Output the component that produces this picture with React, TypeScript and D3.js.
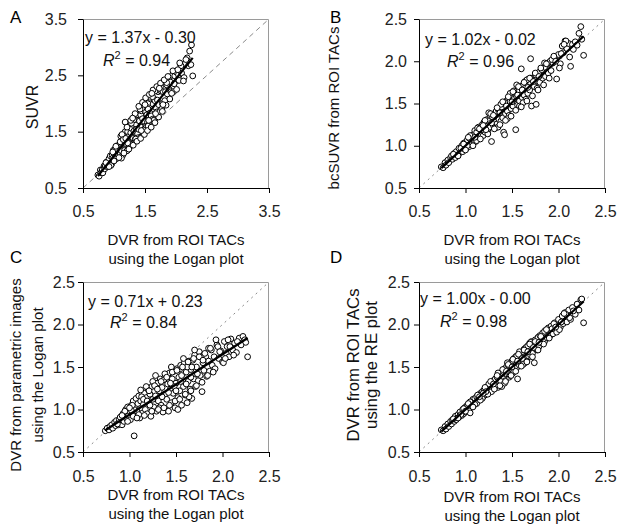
import React, { useRef, useEffect } from "react";
import * as d3 from "d3";

// DVR from ROI TACs (Logan plot) - shared x values for all four panels
const dvrLogan = [
  0.74, 0.76, 0.78, 0.79, 0.81, 0.82, 0.84, 0.85, 0.86, 0.88,
  0.89, 0.90, 0.92, 0.93, 0.94, 0.96, 0.97, 0.98, 0.99, 1.00,
  1.01, 1.02, 1.03, 1.04, 1.04, 1.05, 1.06, 1.07, 1.08, 1.09,
  1.10, 1.11, 1.12, 1.13, 1.14, 1.15, 1.16, 1.17, 1.18, 1.19,
  1.20, 1.21, 1.22, 1.23, 1.24, 1.25, 1.26, 1.27, 1.28, 1.29,
  1.30, 1.31, 1.32, 1.33, 1.34, 1.35, 1.36, 1.37, 1.38, 1.39,
  1.40, 1.41, 1.42, 1.43, 1.44, 1.45, 1.46, 1.47, 1.48, 1.49,
  1.50, 1.51, 1.52, 1.53, 1.54, 1.55, 1.56, 1.57, 1.58, 1.59,
  1.60, 1.61, 1.62, 1.63, 1.64, 1.65, 1.66, 1.67, 1.68, 1.69,
  1.70, 1.71, 1.72, 1.74, 1.75, 1.76, 1.78, 1.79, 1.80, 1.82,
  1.83, 1.85, 1.86, 1.88, 1.89, 1.91, 1.92, 1.94, 1.96, 1.98,
  2.00, 2.02, 2.04, 2.05, 2.07, 2.09, 2.11, 2.13, 2.15, 2.18,
  2.20, 2.22, 2.24, 2.25, 2.27,
  1.05, 1.12, 1.18, 1.25, 1.32, 1.38, 1.45, 1.52, 1.58, 1.64,
  1.70, 1.77, 1.85, 0.95, 1.28, 1.42, 1.55, 1.62, 1.10, 1.35,
  1.48, 1.66, 1.93, 2.08, 1.02,
  1.03, 1.08, 1.13, 1.16, 1.21, 1.24, 1.27, 1.31, 1.34, 1.37,
  1.40, 1.43, 1.46, 1.49, 1.51, 1.54, 1.57, 1.60, 1.63, 1.66,
  1.69, 1.72, 1.75, 1.78, 1.81, 1.84, 1.87, 1.90, 1.95, 2.01,
  2.06, 2.12, 0.87, 0.92, 0.98, 1.00, 1.15, 1.22, 1.30, 1.44,
  1.50, 1.56, 1.61, 1.67, 1.73, 1.79, 1.97, 2.03, 2.16, 1.19,
];

// A: SUVR
const suvr = [
  0.73, 0.71, 0.82, 0.77, 0.82, 0.77, 0.89, 0.84, 0.89, 0.96,
  0.88, 0.93, 1.02, 0.93, 1.07, 0.92, 1.08, 1.03, 1.17, 1.00,
  1.10, 1.05, 1.21, 1.02, 1.17, 1.21, 1.13, 1.09, 1.24, 1.20,
  1.10, 1.42, 1.16, 1.34, 1.08, 1.43, 1.29, 1.17, 1.50, 1.29,
  1.41, 1.16, 1.50, 1.41, 1.31, 1.61, 1.28, 1.48, 1.56, 1.40,
  1.63, 1.38, 1.51, 1.70, 1.36, 1.64, 1.54, 1.71, 1.46, 1.80,
  1.54, 1.69, 1.40, 1.80, 1.87, 1.58, 1.73, 1.51, 1.95, 1.68,
  1.87, 1.60, 2.03, 1.80, 1.67, 1.90, 1.62, 2.02, 1.83, 2.08,
  1.78, 2.13, 1.72, 1.99, 2.09, 1.71, 2.05, 1.93, 2.25, 1.85,
  2.06, 2.21, 1.98, 1.86, 2.30, 2.22, 2.00, 2.21, 2.39, 2.05,
  2.21, 2.33, 2.17, 2.46, 2.25, 2.38, 2.21, 2.50, 2.21, 2.49,
  2.56, 2.41, 2.51, 2.41, 2.70, 2.54, 2.69, 2.46, 2.71, 2.81,
  2.67, 2.93, 2.69, 3.04, 2.49,
  1.25, 1.03, 1.67, 1.23, 1.71, 1.39, 1.91, 1.58, 2.11, 1.70,
  2.25, 1.90, 2.37, 0.90, 1.65, 1.90, 1.60, 2.12, 1.32, 1.37,
  1.53, 2.22, 2.18, 2.67, 1.20,
  1.24, 1.04, 1.45, 1.12, 1.58, 1.19, 1.70, 1.26, 1.82, 1.33,
  1.95, 1.38, 2.02, 1.45, 2.10, 1.52, 2.16, 1.58, 2.24, 1.66,
  2.30, 1.76, 2.36, 1.86, 2.42, 1.97, 2.48, 2.08, 2.58, 2.25,
  2.72, 2.40, 0.95, 0.88, 1.14, 0.98, 1.36, 1.30, 1.74, 1.52,
  1.98, 1.70, 2.18, 1.82, 2.27, 1.98, 2.35, 2.60, 2.78, 1.38,
];

// B: bcSUVR from ROI TACs
const bcSuvr = [
  0.75, 0.74, 0.80, 0.77, 0.83, 0.80, 0.86, 0.88, 0.84, 0.91,
  0.86, 0.93, 0.89, 0.97, 0.92, 1.00, 0.93, 1.03, 0.96, 1.04,
  0.97, 1.07, 1.00, 1.09, 0.99, 1.02, 1.11, 1.03, 1.13, 1.06,
  1.18, 1.05, 1.16, 1.09, 1.22, 1.10, 1.20, 1.13, 1.25, 1.12,
  1.28, 1.16, 1.23, 1.31, 1.17, 1.30, 1.22, 1.35, 1.05, 1.34,
  1.24, 1.38, 1.28, 1.41, 1.26, 1.43, 1.31, 1.39, 1.29, 1.46,
  1.33, 1.16, 1.50, 1.38, 1.53, 1.41, 1.56, 1.36, 1.52, 1.44,
  1.60, 1.47, 1.55, 1.62, 1.19, 1.58, 1.48, 1.66, 1.53, 1.70,
  1.91, 1.57, 1.72, 1.60, 1.76, 1.55, 1.70, 1.62, 1.79, 1.66,
  2.03, 1.47, 1.78, 1.70, 1.84, 1.49, 1.76, 1.87, 1.75, 1.90,
  1.80, 1.93, 1.82, 1.97, 1.86, 2.00, 1.89, 1.98, 2.04, 1.79,
  2.08, 1.97, 2.18, 2.10, 2.24, 2.15, 2.21, 1.94, 2.20, 2.23,
  2.19, 2.33, 2.41, 2.26, 2.07,
  1.12, 1.06, 1.19, 1.39, 1.21, 1.49, 1.32, 1.65, 1.47, 1.68,
  1.80, 1.68, 1.98, 0.97, 1.27, 1.13, 1.72, 1.51, 1.10, 1.22,
  1.62, 1.78, 2.02, 2.24, 1.00,
  1.10, 1.00, 1.21, 1.08, 1.30, 1.14, 1.38, 1.20, 1.45, 1.25,
  1.52, 1.30, 1.58, 1.35, 1.64, 1.42, 1.70, 1.46, 1.75, 1.53,
  1.80, 1.59, 1.86, 1.66, 1.92, 1.72, 1.97, 1.80, 2.06, 1.92,
  2.20, 2.05, 0.90, 0.88, 1.02, 0.95, 1.20, 1.19, 1.36, 1.47,
  1.52, 1.60, 1.66, 1.69, 1.76, 1.82, 2.00, 2.09, 2.14, 1.24,
];

// C: DVR from parametric images using the Logan plot
const dvrParametric = [
  0.75, 0.78, 0.76, 0.80, 0.82, 0.78, 0.85, 0.81, 0.87, 0.82,
  0.88, 0.91, 0.82, 0.95, 0.86, 1.00, 0.89, 1.03, 0.93, 0.98,
  0.88, 1.05, 0.95, 1.10, 0.92, 0.69, 1.03, 1.13, 0.98, 1.07,
  1.16, 0.90, 1.10, 1.20, 0.96, 1.06, 1.19, 1.00, 1.14, 0.95,
  1.24, 1.07, 1.18, 0.92, 1.27, 1.12, 1.03, 1.29, 1.16, 0.98,
  1.31, 1.10, 1.22, 1.36, 1.05, 1.26, 0.97, 1.35, 1.18, 1.40,
  1.12, 1.30, 0.98, 1.43, 1.24, 1.08, 1.36, 1.19, 1.45, 1.02,
  1.31, 1.48, 1.14, 1.38, 1.22, 1.52, 1.05, 1.42, 1.27, 1.55,
  1.17, 1.44, 1.08, 1.33, 1.57, 1.24, 1.47, 1.13, 1.58, 1.36,
  1.64, 1.27, 1.50, 1.34, 1.68, 1.40, 1.21, 1.55, 1.46, 1.62,
  1.39, 1.57, 1.45, 1.70, 1.52, 1.62, 1.48, 1.76, 1.60, 1.69,
  1.56, 1.80, 1.66, 1.74, 1.62, 1.83, 1.70, 1.78, 1.67, 1.84,
  1.76, 1.86, 1.82, 1.79, 1.62,
  1.00, 1.23, 1.27, 1.33, 1.02, 1.42, 1.50, 1.00, 1.60, 1.15,
  1.70, 1.62, 1.72, 0.98, 1.40, 1.20, 1.33, 1.50, 0.94, 1.15,
  1.27, 1.38, 1.82, 1.74, 0.99,
  1.05, 0.90, 1.15, 0.93, 1.22, 0.98, 1.28, 1.00, 1.33, 1.02,
  1.38, 1.05, 1.44, 1.10, 1.46, 1.12, 1.50, 1.18, 1.56, 1.22,
  1.60, 1.28, 1.62, 1.32, 1.66, 1.40, 1.72, 1.44, 1.74, 1.55,
  1.82, 1.64, 0.83, 0.93, 0.86, 1.02, 1.12, 1.05, 1.24, 1.31,
  1.22, 1.40, 1.30, 1.50, 1.42, 1.58, 1.68, 1.60, 1.80, 1.10,
];

// D: DVR from ROI TACs using the RE plot
const dvrRE = [
  0.76, 0.75, 0.80, 0.77, 0.83, 0.80, 0.86, 0.83, 0.88, 0.86,
  0.92, 0.88, 0.94, 0.91, 0.97, 0.93, 1.00, 0.95, 1.02, 0.97,
  1.04, 0.99, 1.06, 1.00, 1.07, 0.96, 1.09, 1.04, 1.12, 1.06,
  1.13, 1.08, 1.15, 1.10, 1.17, 1.11, 1.19, 1.14, 1.21, 1.15,
  1.23, 1.17, 1.25, 1.19, 1.27, 1.20, 1.29, 1.23, 1.31, 1.24,
  1.34, 1.26, 1.36, 1.29, 1.38, 1.26, 1.40, 1.32, 1.43, 1.27,
  1.45, 1.36, 1.48, 1.34, 1.50, 1.41, 1.52, 1.38, 1.55, 1.44,
  1.57, 1.43, 1.60, 1.47, 1.62, 1.49, 1.36, 1.64, 1.52, 1.66,
  1.55, 1.68, 1.56, 1.71, 1.58, 1.73, 1.60, 1.75, 1.62, 1.78,
  1.64, 1.80, 1.66, 1.55, 1.82, 1.71, 1.85, 1.74, 1.87, 1.78,
  1.90, 1.80, 1.93, 1.84, 1.96, 1.87, 1.98, 1.89, 2.02, 1.91,
  2.06, 1.97, 2.10, 2.01, 2.14, 2.03, 2.17, 2.06, 2.20, 2.12,
  2.24, 2.17, 2.29, 2.30, 2.02,
  1.09, 1.07, 1.13, 1.30, 1.27, 1.33, 1.55, 1.45, 1.68, 1.55,
  1.79, 1.70, 1.92, 0.94, 1.21, 1.31, 1.63, 1.53, 1.06, 1.43,
  1.40, 1.57, 1.95, 2.12, 1.04,
  1.07, 1.03, 1.17, 1.11, 1.26, 1.18, 1.33, 1.24, 1.40, 1.28,
  1.47, 1.33, 1.53, 1.40, 1.59, 1.45, 1.65, 1.51, 1.70, 1.56,
  1.77, 1.62, 1.80, 1.70, 1.86, 1.77, 1.94, 1.84, 2.01, 1.94,
  2.13, 2.08, 0.89, 0.90, 1.01, 0.98, 1.15, 1.21, 1.30, 1.45,
  1.50, 1.57, 1.60, 1.68, 1.73, 1.79, 1.97, 2.03, 2.16, 1.19,
];

const fitSlopes = [1.37, 1.02, 0.71, 1.0];
const fitIntercepts = [-0.3, -0.02, 0.23, 0.0];
const eqLabels = ["y = 1.37x - 0.30", "y = 1.02x - 0.02", "y = 0.71x + 0.23", "y = 1.00x - 0.00"];
const r2Labels = ["0.94", "0.96", "0.84", "0.98"];
const panelLetters = ["A", "B", "C", "D"];
const ticksWide = [0.5, 1.5, 2.5, 3.5];
const ticksNarrow = [0.5, 1.0, 1.5, 2.0, 2.5];
const xTitle = ["DVR from ROI TACs", "using the Logan plot"];
const yTitles = [
  ["SUVR"],
  ["bcSUVR from ROI TACs"],
  ["DVR from parametric images", "using the Logan plot"],
  ["DVR from ROI TACs", "using the RE plot"],
];

const FONT = "'Liberation Sans', Arial, sans-serif";

// layout for each panel
const panels = [
  { ys: suvr, domain: [0.5, 3.5], ticks: ticksWide, left: 83, top: 19, w: 186, h: 169,
    yPad: 11, xPad: 13, eq: [85, 43], r2: [103, 66], xt: [245, 264],
    yt: [38], ytMid: 107, ytSize: 16, letter: [10, 23], dash: "5,4" },
  { ys: bcSuvr, domain: [0.5, 2.5], ticks: ticksNarrow, left: 419, top: 19, w: 186, h: 169,
    yPad: 7, xPad: 13, eq: [425, 45], r2: [447, 67], xt: [245, 264],
    yt: [339], ytMid: 108, ytSize: 15, letter: [330, 23], dash: "2,4" },
  { ys: dvrParametric, domain: [0.5, 2.5], ticks: ticksNarrow, left: 83, top: 282, w: 186, h: 170,
    yPad: 3, xPad: 14, eq: [88, 307], r2: [110, 328], xt: [500, 519],
    yt: [21, 43], ytMid: 375, ytSize: 15, letter: [10, 263], dash: "2,4" },
  { ys: dvrRE, domain: [0.5, 2.5], ticks: ticksNarrow, left: 419, top: 282, w: 186, h: 170,
    yPad: 4, xPad: 14, eq: [420, 304], r2: [440, 327], xt: [502, 521],
    yt: [359, 377], ytMid: 365, ytSize: 16.8, letter: [330, 263], dash: "2,4" },
];

function App() {
  const ref = useRef(null);

  useEffect(() => {
    const svg = d3.select(ref.current);
    svg.selectAll("*").remove();

    panels.forEach((p, i) => {
      const x = d3.scaleLinear().domain(p.domain).range([p.left, p.left + p.w]);
      const y = d3.scaleLinear().domain(p.domain).range([p.top + p.h, p.top]);
      const g = svg.append("g");

      // grey frame on top / right
      g.append("path")
        .attr("d", `M${p.left},${p.top + 0.5}H${p.left + p.w - 0.5}V${p.top + p.h}`)
        .attr("fill", "none")
        .attr("stroke", "#9a9a9a");

      // line of identity
      g.append("line")
        .attr("x1", x(p.domain[0]))
        .attr("y1", y(p.domain[0]))
        .attr("x2", x(p.domain[1]))
        .attr("y2", y(p.domain[1]))
        .attr("stroke", "#8a8a8a")
        .attr("stroke-dasharray", p.dash);

      // axes
      const xAxis = g.append("g")
        .attr("transform", `translate(0,${p.top + p.h})`)
        .call(d3.axisBottom(x).tickValues(p.ticks).tickFormat(d3.format(".1f"))
          .tickSize(5).tickSizeOuter(0).tickPadding(p.xPad));
      const yAxis = g.append("g")
        .attr("transform", `translate(${p.left},0)`)
        .call(d3.axisLeft(y).tickValues(p.ticks).tickFormat(d3.format(".1f"))
          .tickSize(5).tickSizeOuter(0).tickPadding(p.yPad));
      [xAxis, yAxis].forEach((a) => {
        a.select(".domain").attr("stroke", "#000");
        a.selectAll(".tick line").attr("stroke", "#000");
        a.selectAll("text")
          .attr("font-family", FONT)
          .attr("font-size", 16)
          .attr("fill", "#222");
      });

      // points
      const pts = dvrLogan.map((d, k) => [d, p.ys[k]]);
      g.append("g")
        .selectAll("circle")
        .data(pts)
        .enter()
        .append("circle")
        .attr("cx", (d) => x(d[0]))
        .attr("cy", (d) => y(d[1]))
        .attr("r", 2.9)
        .attr("fill", "#fff")
        .attr("stroke", "#000")
        .attr("stroke-width", 1);

      // regression line
      const [x0, x1] = d3.extent(dvrLogan);
      g.append("line")
        .attr("x1", x(x0))
        .attr("y1", y(fitSlopes[i] * x0 + fitIntercepts[i]))
        .attr("x2", x(x1))
        .attr("y2", y(fitSlopes[i] * x1 + fitIntercepts[i]))
        .attr("stroke", "#000")
        .attr("stroke-width", 2.2);

      // equation + R squared
      g.append("text")
        .attr("x", p.eq[0])
        .attr("y", p.eq[1])
        .attr("font-family", FONT)
        .attr("font-size", 16)
        .attr("fill", "#111")
        .text(eqLabels[i]);
      const r2 = g.append("text")
        .attr("x", p.r2[0])
        .attr("y", p.r2[1])
        .attr("font-family", FONT)
        .attr("font-size", 16)
        .attr("fill", "#111");
      r2.append("tspan").attr("font-style", "italic").text("R");
      r2.append("tspan").attr("font-size", 11).attr("dy", -7).text("2");
      r2.append("tspan").attr("dy", 7).text(" = " + r2Labels[i]);

      // x title
      xTitle.forEach((t, k) => {
        g.append("text")
          .attr("x", p.left + p.w / 2)
          .attr("y", p.xt[k])
          .attr("text-anchor", "middle")
          .attr("font-family", FONT)
          .attr("font-size", 15)
          .attr("fill", "#111")
          .text(t);
      });

      // y title
      yTitles[i].forEach((t, k) => {
        g.append("text")
          .attr("transform", `translate(${p.yt[k]},${p.ytMid}) rotate(-90)`)
          .attr("text-anchor", "middle")
          .attr("font-family", FONT)
          .attr("font-size", p.ytSize)
          .attr("fill", "#111")
          .text(t);
      });

      // panel letter
      g.append("text")
        .attr("x", p.letter[0])
        .attr("y", p.letter[1])
        .attr("font-family", FONT)
        .attr("font-size", 17)
        .attr("fill", "#000")
        .text(panelLetters[i]);
    });
  }, []);

  return (
    <div style={{ position: "absolute", left: 0, top: 0 }}>
      <svg ref={ref} width={624} height={531} style={{ display: "block", background: "#fff" }}></svg>
    </div>
  );
}

export default App;
